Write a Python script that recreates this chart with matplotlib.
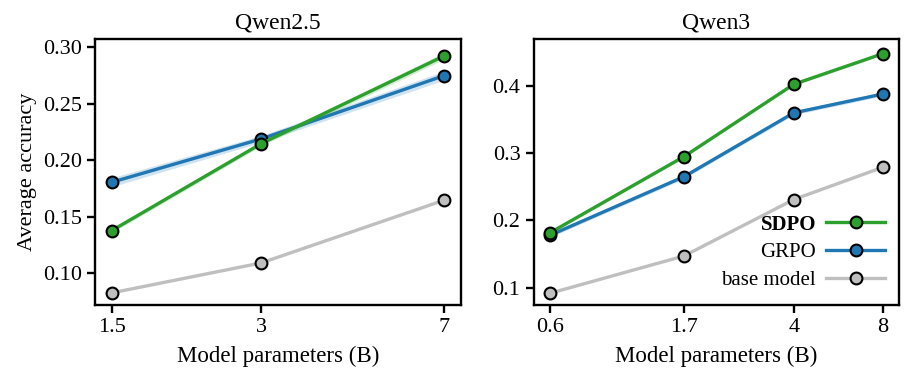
import matplotlib
matplotlib.use("Agg")
import matplotlib.pyplot as plt
from matplotlib.ticker import FixedLocator, FixedFormatter, NullLocator

# ---------------- data ----------------
qwen25_size = [1.5, 3, 7]
qwen25_sdpo = [0.1376, 0.2145, 0.2920]
qwen25_grpo = [0.1804, 0.2187, 0.2746]
qwen25_base = [0.0826, 0.1091, 0.1645]
qwen25_sdpo_err = [0.002, 0.002, 0.003]
qwen25_grpo_err = [0.004, 0.003, 0.004]

qwen3_size = [0.6, 1.7, 4, 8]
qwen3_sdpo = [0.1818, 0.2949, 0.4025, 0.4480]
qwen3_grpo = [0.1780, 0.2650, 0.3600, 0.3880]
qwen3_base = [0.0917, 0.1470, 0.2310, 0.2790]
qwen3_sdpo_err = [0.002, 0.002, 0.002, 0.002]
qwen3_grpo_err = [0.003, 0.003, 0.003, 0.003]

qwen25_ticklabels = ["1.5", "3", "7"]
qwen3_ticklabels = ["0.6", "1.7", "4", "8"]

c_sdpo = "#2ca02c"
c_grpo = "#1f77b4"
c_base = "#bfbfbf"

plt.rcParams["font.family"] = ["Liberation Serif", "DejaVu Serif"]
plt.rcParams["font.size"] = 16

fig, axes = plt.subplots(1, 2, figsize=(9.13, 3.85), dpi=100)


def draw(ax, x, sdpo, grpo, base, sdpo_err, grpo_err, labels, title):
    mk = dict(marker="o", markersize=8.5, markeredgecolor="black", markeredgewidth=1.5, linewidth=2.4)
    ax.plot(x, base, color=c_base, label="base model", zorder=2, **mk)
    ax.fill_between(x, [g - e for g, e in zip(grpo, grpo_err)], [g + e for g, e in zip(grpo, grpo_err)],
                    color=c_grpo, alpha=0.2, linewidth=0, zorder=2)
    ax.plot(x, grpo, color=c_grpo, label="GRPO", zorder=3, **mk)
    ax.fill_between(x, [s - e for s, e in zip(sdpo, sdpo_err)], [s + e for s, e in zip(sdpo, sdpo_err)],
                    color=c_sdpo, alpha=0.2, linewidth=0, zorder=3)
    ax.plot(x, sdpo, color=c_sdpo, label="SDPO", zorder=4, **mk)
    ax.set_xscale("log")
    ax.xaxis.set_major_locator(FixedLocator(x))
    ax.xaxis.set_major_formatter(FixedFormatter(labels))
    ax.xaxis.set_minor_locator(NullLocator())
    ax.set_title(title, fontsize=17, pad=8)
    ax.set_xlabel("Model parameters (B)", fontsize=16.5, labelpad=6)
    for s in ax.spines.values():
        s.set_linewidth(1.7)
    ax.tick_params(width=1.7, length=6, labelsize=16)


draw(axes[0], qwen25_size, qwen25_sdpo, qwen25_grpo, qwen25_base, qwen25_sdpo_err, qwen25_grpo_err,
     qwen25_ticklabels, "Qwen2.5")
draw(axes[1], qwen3_size, qwen3_sdpo, qwen3_grpo, qwen3_base, qwen3_sdpo_err, qwen3_grpo_err,
     qwen3_ticklabels, "Qwen3")

axes[0].set_ylabel("Average accuracy", fontsize=16)
axes[0].set_yticks([0.10, 0.15, 0.20, 0.25, 0.30])
axes[0].set_yticklabels(["0.10", "0.15", "0.20", "0.25", "0.30"])
axes[0].set_ylim(0.072, 0.3068)
axes[1].set_yticks([0.1, 0.2, 0.3, 0.4])
axes[1].set_yticklabels(["0.1", "0.2", "0.3", "0.4"])
axes[1].set_ylim(0.0742, 0.4695)

h, l = axes[1].get_legend_handles_labels()
order = [2, 1, 0]
leg = axes[1].legend([h[i] for i in order], [l[i] for i in order], loc="lower right", frameon=False,
                     markerfirst=False, fontsize=15, handlelength=2.8, handletextpad=0.5,
                     labelspacing=0.4, borderaxespad=0.3)
for t in leg.get_texts():
    t.set_ha("right")
leg.get_texts()[0].set_fontweight("bold")
leg._legend_box.align = "right"

plt.subplots_adjust(left=0.104, right=0.985, top=0.898, bottom=0.208, wspace=0.2)
plt.savefig("out.png", dpi=100)
